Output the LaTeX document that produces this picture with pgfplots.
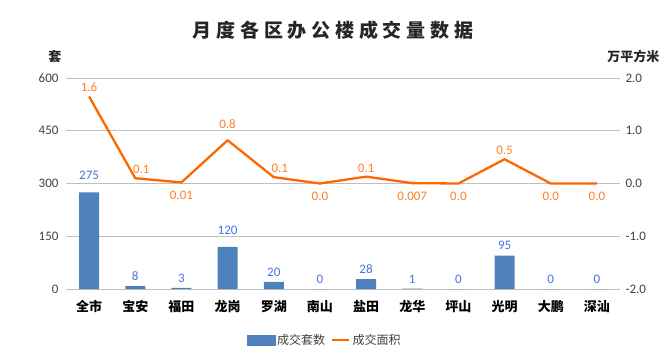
\documentclass[border=0pt]{standalone}
\usepackage{pgfplots}
\pgfplotsset{compat=1.18}
\usepackage{fontspec}
\setmainfont{Carlito}
\newfontfamily\cjk{Noto Sans CJK SC}
\newfontfamily\cjktitle[LetterSpace=25]{Noto Sans CJK SC}
\definecolor{barblue}{HTML}{4F81BD}
\definecolor{barlab}{HTML}{4A6FE3}
\definecolor{lineor}{HTML}{FF6600}
\definecolor{linelab}{HTML}{FF7F27}
\definecolor{gridc}{HTML}{BFBFBF}
\definecolor{tickc}{HTML}{404040}
\begin{document}
\begin{tikzpicture}[x=1pt,y=1pt]
\path[use as bounding box] (-66,-64) rectangle (600,289);
\pgfplotsset{
  common/.style={
    at={(0,0)}, anchor=south west,
    width=554pt, height=211pt, scale only axis,
    xmin=-0.5, xmax=11.5,
    axis line style={draw=none},
    tick style={draw=none},
    /pgf/number format/assume math mode=true,
    ticklabel style={font=\fontsize{13}{15}\selectfont, text=tickc},
  }
}
\begin{axis}[common,
  ymin=0, ymax=600, ytick={0,150,300,450,600},
  ymajorgrids, grid style={gridc, line width=0.8pt},
  xtick={0,...,11},
  xticklabels={全市,宝安,福田,龙岗,罗湖,南山,盐田,龙华,坪山,光明,大鹏,深汕},
  xticklabel style={font=\cjk\bfseries\fontsize{13}{15}\selectfont, text=black, yshift=-8pt},
  yticklabel style={xshift=-4pt},
]
\addplot[ybar, bar width=20pt, fill=barblue, draw=none] coordinates {
(0,275) (1,8) (2,3) (3,120) (4,20) (5,0) (6,28) (7,1) (8,0) (9,95) (10,0) (11,0)};
\addplot[draw=none, nodes near coords, point meta=y,
  nodes near coords style={anchor=south, font=\fontsize{13}{15}\selectfont, text=barlab, yshift=9pt}]
  coordinates {(0,275) (3,120)};
\addplot[draw=none, nodes near coords, point meta=y,
  nodes near coords style={anchor=south, font=\fontsize{13}{15}\selectfont, text=barlab, yshift=2pt}]
  coordinates {(1,8) (2,3) (4,20) (5,0) (6,28) (7,1) (8,0) (9,95) (10,0) (11,0)};
\end{axis}
\begin{axis}[common, clip=false,
  ymin=-2, ymax=2, ytick={-2,-1,0,1,2},
  axis y line*=right,
  xtick=\empty,
  yticklabel style={/pgf/number format/fixed, /pgf/number format/fixed zerofill, /pgf/number format/precision=1, xshift=2pt},
  legend style={at={(0.467,-0.242)}, anchor=center, draw=none, fill=none,
    legend columns=2, font=\cjk\fontsize{12}{14}\selectfont, text=tickc,
    /tikz/every even column/.append style={column sep=4pt}},
]
\addlegendimage{legend image code/.code={\fill[barblue] (0pt,-5pt) rectangle (28pt,5pt);}}
\addlegendentry{成交套数}
\addplot[lineor, line width=2.3pt, line join=round] coordinates {
(0,1.65) (1,0.10) (2,0.02) (3,0.82) (4,0.12) (5,0.0) (6,0.13) (7,0.007) (8,0.0) (9,0.46) (10,0.0) (11,0.0)};
\addlegendentry{成交面积}
\addplot[draw=none, forget plot, nodes near coords, point meta=explicit symbolic,
  nodes near coords style={anchor=south, font=\fontsize{13}{15}\selectfont, text=linelab, yshift=1pt}]
  coordinates {(0,1.65)[1.6] (6,0.13)[0.1] (9,0.46)[0.5]};
\addplot[draw=none, forget plot, nodes near coords, point meta=explicit symbolic,
  nodes near coords style={anchor=south, font=\fontsize{13}{15}\selectfont, text=linelab, yshift=8pt}]
  coordinates {(3,0.82)[0.8]};
\addplot[draw=none, forget plot, nodes near coords, point meta=explicit symbolic,
  nodes near coords style={anchor=south, font=\fontsize{13}{15}\selectfont, text=linelab, yshift=1pt, xshift=6pt}]
  coordinates {(1,0.10)[0.1] (4,0.12)[0.1]};
\addplot[draw=none, forget plot, nodes near coords, point meta=explicit symbolic,
  nodes near coords style={anchor=north, font=\fontsize{13}{15}\selectfont, text=linelab, yshift=-5pt}]
  coordinates {(2,0.02)[0.01] (5,0.0)[0.0] (7,0.007)[0.007] (8,0.0)[0.0] (10,0.0)[0.0] (11,0.0)[0.0]};
\node[font=\cjktitle\bfseries\fontsize{19}{22}\selectfont, text=black!85] at (rel axis cs:0.482,1.227) {月度各区办公楼成交量数据};
\node[font=\cjk\bfseries\fontsize{13}{15}\selectfont, text=black!85] at (rel axis cs:-0.02,1.1) {套};
\node[font=\cjk\bfseries\fontsize{13}{15}\selectfont, text=black!85] at (rel axis cs:1.024,1.1) {万平方米};
\end{axis}
\end{tikzpicture}
\end{document}
